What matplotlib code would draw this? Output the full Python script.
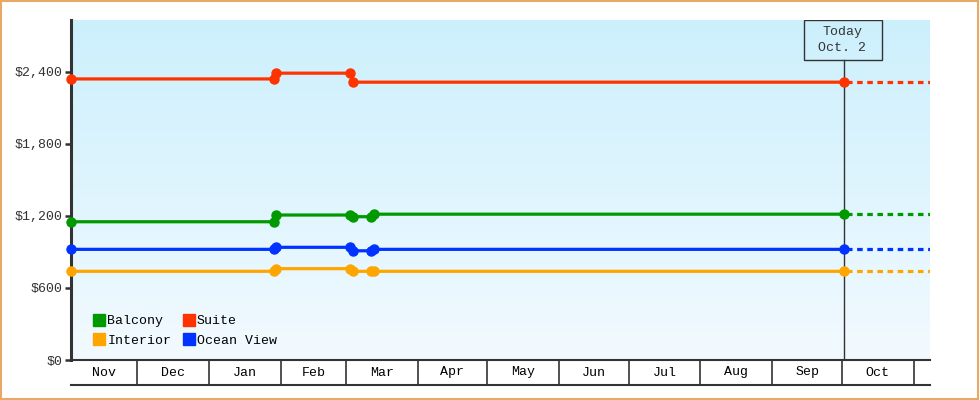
import matplotlib
matplotlib.use("Agg")
import matplotlib.pyplot as plt
import numpy as np
import pandas as pd
from matplotlib.lines import Line2D
from matplotlib.patches import Rectangle

plt.rcParams['font.family'] = ['Liberation Mono', 'DejaVu Sans Mono']
plt.rcParams['lines.scale_dashes'] = False

# --- data ---
suite_dates = ["2022-11-02 12:00", "2023-01-29 00:00", "2023-01-30 00:00", "2023-03-03 00:00",
               "2023-03-04 00:00", "2023-10-02 00:00"]
suite_prices = [2342, 2342, 2390, 2390, 2315, 2315]

step_dates = ["2022-11-02 12:00", "2023-01-29 00:00", "2023-01-30 00:00", "2023-03-03 00:00",
              "2023-03-04 00:00", "2023-03-12 00:00", "2023-03-13 00:00", "2023-10-02 00:00"]
balcony_prices = [1152, 1152, 1208, 1208, 1194, 1194, 1215, 1215]
ocean_prices = [922, 922, 939, 939, 910, 910, 922, 922]
interior_prices = [739, 739, 761, 761, 739, 739, 739, 739]

series = [
    ("Suite", suite_dates, suite_prices, "#ff3300"),
    ("Balcony", step_dates, balcony_prices, "#009900"),
    ("Ocean View", step_dates, ocean_prices, "#0033ff"),
    ("Interior", step_dates, interior_prices, "#ffa500"),
]
legend_order = ["Balcony", "Interior", "Suite", "Ocean View"]

today = pd.Timestamp("2023-10-02")
x_start = pd.Timestamp("2022-11-02 12:00")
x_end = pd.Timestamp("2023-11-08")
month_starts = pd.date_range("2022-12-01", "2023-11-01", freq="MS")
month_names = ["Nov", "Dec", "Jan", "Feb", "Mar", "Apr", "May", "Jun", "Jul", "Aug", "Sep", "Oct"]
y_ticks = [0, 600, 1200, 1800, 2400]
y_max = 2833

dark = "#333333"

fig = plt.figure(figsize=(9.8, 4), dpi=100)
ax = fig.add_axes([71 / 980, 40 / 400, 859 / 980, 340 / 400])

# gradient background
grad = np.linspace(0, 1, 256).reshape(-1, 1)
top = np.array([0.80, 0.94, 0.99])
bot = np.array([0.95, 0.98, 1.0])
img = bot + (top - bot) * grad
ax.imshow(img[:, None, :].repeat(2, axis=1), extent=[0, 1, 0, 1], transform=ax.transAxes,
          aspect='auto', origin='lower', zorder=0)

for name, d, p, c in series:
    d = pd.to_datetime(d)
    ax.plot(d, p, color=c, lw=2.3, marker='o', ms=6.5, zorder=4, solid_capstyle='butt',
            clip_on=False)
    ax.plot([d[-1], x_end], [p[-1], p[-1]], color=c, lw=2.3,
            linestyle=(5.5, (4, 3.3)), zorder=2)

ax.set_xlim(x_start, x_end)
ax.set_ylim(0, y_max)

# today marker
tr = ax.get_xaxis_transform()
box_h = 40 / 340
ax.axvline(today, color=dark, lw=1, zorder=2, ymax=1 - box_h)
ax.add_patch(Rectangle((today - pd.Timedelta(days=17.5), 1 - box_h), pd.Timedelta(days=34), box_h,
                       transform=tr, fill=False, ec=dark, lw=1, zorder=4))
ax.text(today - pd.Timedelta(days=0.8), 1 - box_h / 2, "Today\nOct. 2", transform=tr,
        ha='center', va='center', fontsize=9.5, color=dark, linespacing=1.35, zorder=4)

# axes styling
for s in ["top", "right", "bottom"]:
    ax.spines[s].set_visible(False)
ax.spines["left"].set_color(dark)
ax.spines["left"].set_linewidth(2.2)
ax.set_yticks(y_ticks)
ax.set_yticklabels([f"${v:,}" for v in y_ticks])
ax.tick_params(axis='y', length=4, width=1.8, color=dark, labelcolor=dark,
               labelsize=9.5, pad=2)
ax.set_xticks([])

# month band below the plot
band = -25 / 340
ax.plot([0, 1], [0, 0], transform=ax.transAxes, color=dark, lw=1.5, clip_on=False, zorder=5)
ax.plot([0, 1], [band, band], transform=ax.transAxes, color=dark, lw=1.5, clip_on=False)
for m in month_starts:
    ax.plot([m, m], [0, band], transform=tr, color=dark, lw=1.2, clip_on=False)
edges = [x_start] + list(month_starts)
for i, name in enumerate(month_names):
    mid = edges[i] + (edges[i + 1] - edges[i]) / 2
    ax.text(mid, band / 2, name, transform=tr, ha='center', va='center',
            fontsize=9.5, color='black', clip_on=False)

# legend
colors = {name: c for name, _, _, c in series}
handles = [Line2D([], [], ls='none', marker='s', ms=8, mfc=colors[n], mec=colors[n])
           for n in legend_order]
ax.legend(handles, legend_order, ncol=2, loc='lower left', bbox_to_anchor=(0.016, 0.016),
          frameon=False, fontsize=9.5, handletextpad=0.1, columnspacing=0.85,
          labelspacing=0.55, handlelength=1.0, borderaxespad=0.2)

# outer border
fig.patches.append(Rectangle((0.001, 0.002), 0.997, 0.995, transform=fig.transFigure,
                             fill=False, ec="#e8a866", lw=1.5))

fig.savefig("out.png", dpi=100)
